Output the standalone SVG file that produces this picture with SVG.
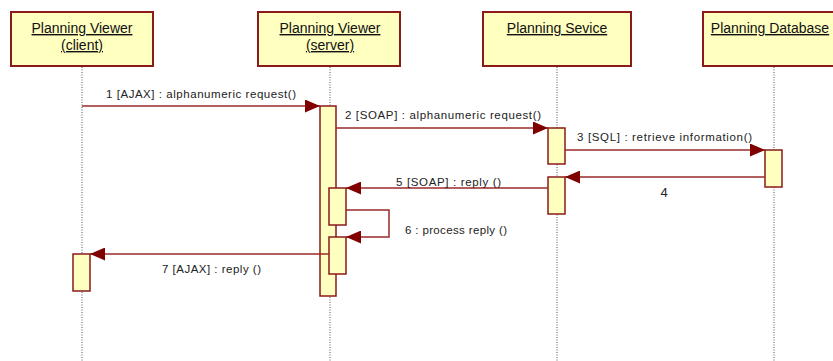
<svg xmlns="http://www.w3.org/2000/svg" width="833" height="361" viewBox="0 0 833 361">
  <defs>
    <style>
      .obj { fill: #FFFFC0; stroke: #8B1A1A; stroke-width: 2; }
      .act { fill: #FFFFC0; stroke: #8B1A1A; stroke-width: 1.5; }
      .life { stroke: #555; stroke-width: 1; stroke-dasharray: 1 1.5; fill: none; }
      .msg { stroke: #9B2A2A; stroke-width: 1.5; fill: none; }
      .title { font-family: "Liberation Sans", Arial, sans-serif; font-size: 14px; fill: #111; text-anchor: middle; text-decoration: underline; }
      .lbl { font-family: "Liberation Sans", Arial, sans-serif; font-size: 11.5px; fill: #222; }
    </style>
    <marker id="arrow" viewBox="0 0 15 13" refX="15" refY="6.5" markerWidth="15" markerHeight="13" markerUnits="userSpaceOnUse" orient="auto">
      <path d="M0,0 L15,6.5 L0,13 Z" fill="#800000"/>
    </marker>
  </defs>

  <!-- lifelines -->
  <g id="lifelines">
    <line class="life" x1="82" y1="67" x2="82" y2="361"/>
    <line class="life" x1="330" y1="67" x2="330" y2="361"/>
    <line class="life" x1="557" y1="67" x2="557" y2="361"/>
    <line class="life" x1="774" y1="67" x2="774" y2="361"/>
  </g>

  <!-- participants -->
  <g id="client">
    <rect class="obj" x="11" y="12" width="142" height="54"/>
    <text class="title" x="82" y="33">Planning Viewer</text>
    <text class="title" x="82" y="50">(client)</text>
  </g>
  <g id="server">
    <rect class="obj" x="258" y="12" width="142" height="54"/>
    <text class="title" x="330" y="33">Planning Viewer</text>
    <text class="title" x="330" y="50">(server)</text>
  </g>
  <g id="service">
    <rect class="obj" x="483" y="12" width="148" height="54"/>
    <text class="title" x="557" y="33">Planning Sevice</text>
  </g>
  <g id="database">
    <rect class="obj" x="703" y="12" width="142" height="54"/>
    <text class="title" x="770" y="33">Planning Database</text>
  </g>

  <!-- activations -->
  <g id="activations">
    <rect class="act" x="320" y="106" width="16" height="190"/>
    <rect class="act" x="548" y="128" width="17" height="36"/>
    <rect class="act" x="765" y="150" width="17" height="37"/>
    <rect class="act" x="548" y="177" width="17" height="37"/>
    <rect class="act" x="329" y="188" width="17" height="37"/>
    <rect class="act" x="329" y="237" width="17" height="37"/>
    <rect class="act" x="73" y="254" width="17" height="37"/>
  </g>

  <!-- messages -->
  <g id="connectors">
    <line class="msg" x1="82" y1="106" x2="320" y2="106" marker-end="url(#arrow)"/>
    <line class="msg" x1="336" y1="128" x2="548" y2="128" marker-end="url(#arrow)"/>
    <line class="msg" x1="565" y1="150" x2="765" y2="150" marker-end="url(#arrow)"/>
    <line class="msg" x1="765" y1="177" x2="565" y2="177" marker-end="url(#arrow)"/>
    <line class="msg" x1="548" y1="188" x2="346" y2="188" marker-end="url(#arrow)"/>
    <polyline class="msg" points="346,210 389,210 389,237 346,237" marker-end="url(#arrow)"/>
    <line class="msg" x1="329" y1="254" x2="90" y2="254" marker-end="url(#arrow)"/>
  </g>

  <!-- message labels -->
  <g id="labels">
    <text class="lbl" x="106" y="98" textLength="190">1 [AJAX] : alphanumeric request()</text>
    <text class="lbl" x="345" y="119" textLength="196">2 [SOAP] : alphanumeric request()</text>
    <text class="lbl" x="577" y="141" textLength="175">3 [SQL] : retrieve information()</text>
    <text x="664" y="197" font-family="Liberation Sans, Arial, sans-serif" font-size="13" fill="#222" text-anchor="middle">4</text>
    <text class="lbl" x="396" y="186" textLength="105">5 [SOAP] : reply ()</text>
    <text class="lbl" x="405" y="234" textLength="102">6 : process reply ()</text>
    <text class="lbl" x="162" y="273" textLength="99">7 [AJAX] : reply ()</text>
  </g>
</svg>
